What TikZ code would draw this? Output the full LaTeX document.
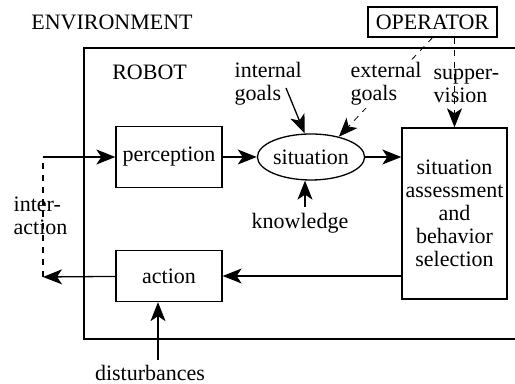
\documentclass[tikz,border=0pt]{standalone}
\usepackage{fontspec}
\setmainfont{Liberation Serif}
\usetikzlibrary{arrows.meta,shapes.geometric,backgrounds}

\begin{document}
\begin{tikzpicture}[x=0.5pt,y=-0.5pt,line width=0.65pt,
    >={Stealth[length=9.5pt,width=7.5pt,inset=2.5pt]},
    font=\fontsize{11}{11.5}\selectfont,
    box/.style={draw,inner sep=0pt,align=center},
    lbl/.style={inner sep=1pt,align=left,fill=white}]
  \useasboundingbox (0,0) rectangle (515,384);

  % the robot frame runs off the right-hand side
  \draw (515,48) -| (84,339) -- (515,339);
  \node (env) at (112,22) {ENVIRONMENT};
  \node[anchor=west] (robot) at (105,72) {ROBOT};

  % blocks
  \node[box,minimum width=53pt,minimum height=30.5pt] (perception) at (169,157) {perception};
  \node[box,minimum width=53pt,minimum height=25.5pt] (action) at (169,276) {action};
  \node[box,ellipse,minimum width=47pt,minimum height=23pt] (situation) at (311,157) {situation};
  \node[box,minimum width=52.5pt,minimum height=85.5pt] (sa) at (454.5,213.5)
    {situation\\assessment\\and\\behavior\\selection};
  \node[box,minimum width=64.5pt,minimum height=15pt] (op) at (432.5,22) {OPERATOR};

  % labels
  \node[lbl,anchor=west] (inter) at (11,216) {inter-\\action};
  \node[lbl,anchor=west] (igoals) at (232,84) {internal\\goals};
  \node[lbl,anchor=west] (egoals) at (348,84) {external\\goals};
  \node[lbl,anchor=west] (superv) at (431,86) {supper-\\vision};
  \node (know) at (300,223) {knowledge};
  \node (dist) at (150,373) {disturbances};

  \coordinate (ia-top) at (43,157);
  \coordinate (ia-bot) at (43,277);
  \coordinate (ig-tail) at (286,88);
  \coordinate (k-tail) at (305,207);
  \coordinate (d-tail) at (158,360);

  % main loop
  \draw[->] (perception) -- (situation);
  \draw[->] (situation) -- (situation -| sa.west);
  \draw[->] (sa.west |- action) -- (action);
  \draw[->] (action) -- (ia-bot);
  \draw[dashed] (ia-bot) -- (ia-top);
  \draw[->] (ia-top) -- (perception);

  % inputs to the situation
  \draw[->] (ig-tail) -- (situation.105);
  \begin{scope}[on background layer]
    \draw[dashed,->] (op.south) -- (situation.36);
  \end{scope}
  \draw[->] (k-tail) -- (k-tail |- situation.south);
  \draw[dashed,->] (op.south -| sa.north) -- (sa.north);
  \draw[->] (d-tail) -- (d-tail |- action.south);
\end{tikzpicture}
\end{document}
